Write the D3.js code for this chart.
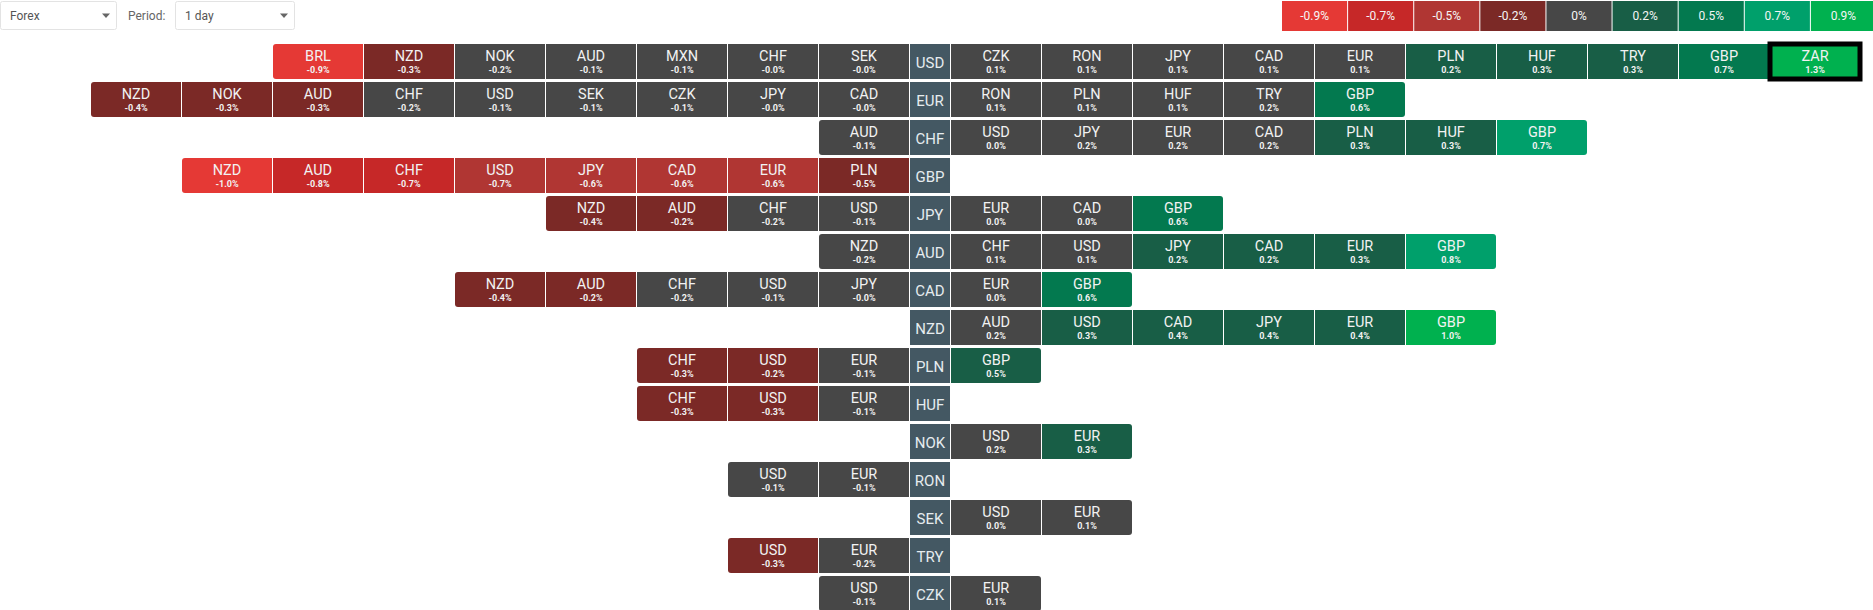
<!DOCTYPE html>
<html>
<head>
<meta charset="utf-8">
<script src="https://cdn.jsdelivr.net/npm/d3@7"></script>
<style>
  html, body { margin: 0; padding: 0; background: #fff; overflow: hidden; }
  svg { display: block; font-family: Roboto, "Noto Sans", sans-serif; }
</style>
</head>
<body>
<svg id="chart" width="1873" height="610"></svg>
<script>
// ---------- DATA ----------
const bases = ["USD","EUR","CHF","GBP","JPY","AUD","CAD","NZD","PLN","HUF","NOK","RON","SEK","TRY","CZK"];

// weaker currencies (left of the base column), listed from the outer edge toward the base
const weakerCodes = [
  ["BRL","NZD","NOK","AUD","MXN","CHF","SEK"],
  ["NZD","NOK","AUD","CHF","USD","SEK","CZK","JPY","CAD"],
  ["AUD"],
  ["NZD","AUD","CHF","USD","JPY","CAD","EUR","PLN"],
  ["NZD","AUD","CHF","USD"],
  ["NZD"],
  ["NZD","AUD","CHF","USD","JPY"],
  [],
  ["CHF","USD","EUR"],
  ["CHF","USD","EUR"],
  [],
  ["USD","EUR"],
  [],
  ["USD","EUR"],
  ["USD"]
];
const weakerValues = [
  [-0.92,-0.30,-0.17,-0.10,-0.10,-0.04,-0.03],
  [-0.40,-0.30,-0.30,-0.17,-0.10,-0.10,-0.10,-0.04,-0.03],
  [-0.10],
  [-1.02,-0.78,-0.72,-0.68,-0.60,-0.60,-0.58,-0.48],
  [-0.40,-0.22,-0.17,-0.10],
  [-0.17],
  [-0.40,-0.22,-0.17,-0.10,-0.03],
  [],
  [-0.30,-0.22,-0.10],
  [-0.30,-0.30,-0.10],
  [],
  [-0.10,-0.10],
  [],
  [-0.30,-0.17],
  [-0.10]
];

// stronger currencies (right of the base column), listed from the base outward
const strongerCodes = [
  ["CZK","RON","JPY","CAD","EUR","PLN","HUF","TRY","GBP","ZAR"],
  ["RON","PLN","HUF","TRY","GBP"],
  ["USD","JPY","EUR","CAD","PLN","HUF","GBP"],
  [],
  ["EUR","CAD","GBP"],
  ["CHF","USD","JPY","CAD","EUR","GBP"],
  ["EUR","GBP"],
  ["AUD","USD","CAD","JPY","EUR","GBP"],
  ["GBP"],
  [],
  ["USD","EUR"],
  [],
  ["USD","EUR"],
  [],
  ["EUR"]
];
const strongerValues = [
  [0.10,0.10,0.10,0.10,0.10,0.22,0.30,0.30,0.68,1.30],
  [0.10,0.10,0.10,0.17,0.60],
  [0.03,0.17,0.17,0.17,0.30,0.30,0.72],
  [],
  [0.03,0.03,0.60],
  [0.10,0.10,0.22,0.22,0.30,0.80],
  [0.03,0.60],
  [0.17,0.30,0.40,0.40,0.40,1.00],
  [0.48],
  [],
  [0.17,0.30],
  [],
  [0.03,0.10],
  [],
  [0.10]
];

const legendValues = [-0.9,-0.7,-0.5,-0.2,0,0.2,0.5,0.7,0.9];
const legendLabels = ["-0.9%","-0.7%","-0.5%","-0.2%","0%","0.2%","0.5%","0.7%","0.9%"];

const colorThresholds = [-0.85,-0.69,-0.49,-0.19,0.19,0.49,0.69,0.85];
const colorRange = ["#e53935","#c62828","#b03633","#7b2926","#474747","#185e46","#03794f","#00a06b","#00b14f"];

// ---------- DRAWING ----------
const svg = d3.select("#chart");
const color = d3.scaleThreshold().domain(colorThresholds).range(colorRange);

const y = d3.scaleBand().domain(bases).range([44, 611]).paddingInner(3/38).paddingOuter(0);
const h = y.bandwidth();
const cellW = 90;
const xRight = d3.scaleLinear().domain([0, 1]).range([951, 1042]);
const xLeft = d3.scaleLinear().domain([0, 1]).range([819, 728]);
const labelX = 910, labelW = 40;
const r = 3;

function cellPath(x, yy, w, hh, rl, rr) {
  const p = d3.path();
  p.moveTo(x + rl, yy);
  p.lineTo(x + w - rr, yy);
  if (rr) p.arcTo(x + w, yy, x + w, yy + rr, rr);
  p.lineTo(x + w, yy + hh - rr);
  if (rr) p.arcTo(x + w, yy + hh, x + w - rr, yy + hh, rr);
  p.lineTo(x + rl, yy + hh);
  if (rl) p.arcTo(x, yy + hh, x, yy + hh - rl, rl);
  p.lineTo(x, yy + rl);
  if (rl) p.arcTo(x, yy, x + rl, yy, rl);
  p.closePath();
  return p.toString();
}

// maximum for highlight
let maxV = -Infinity, maxKey = null;
bases.forEach((b, i) => strongerValues[i].forEach((v, j) => {
  if (v > maxV) { maxV = v; maxKey = b + "-" + strongerCodes[i][j]; }
}));

const fmt = v => v.toFixed(1) + "%";

const cells = [];
bases.forEach((b, i) => {
  const n = weakerCodes[i].length;
  weakerCodes[i].forEach((c, j) => {
    const k = n - 1 - j; // distance from base column
    cells.push({ base: b, code: c, v: weakerValues[i][j], x: xLeft(k), rl: j === 0 ? r : 0, rr: 0 });
  });
  const m = strongerCodes[i].length;
  strongerCodes[i].forEach((c, j) => {
    cells.push({ base: b, code: c, v: strongerValues[i][j], x: xRight(j), rl: 0, rr: j === m - 1 ? r : 0 });
  });
});

const g = svg.append("g");
const cg = g.selectAll("g.cell").data(cells).join("g").attr("class", "cell");
cg.append("path")
  .attr("d", d => cellPath(d.x, y(d.base), cellW, h, d.rl, d.rr))
  .attr("fill", d => color(d.v));
cg.append("text")
  .attr("x", d => d.x + cellW / 2)
  .attr("y", d => y(d.base) + 16.5)
  .attr("text-anchor", "middle")
  .attr("fill", "#f2f2f2")
  .attr("font-size", 14.5)
  .text(d => d.code);
cg.append("text")
  .attr("x", d => d.x + cellW / 2)
  .attr("y", d => y(d.base) + 28.5)
  .attr("text-anchor", "middle")
  .attr("fill", "#f2f2f2")
  .attr("font-size", 9)
  .attr("font-weight", "bold")
  .text(d => fmt(d.v));

// highlight
const hl = cells.find(d => d.base + "-" + d.code === maxKey);
if (hl) {
  g.append("rect")
    .attr("x", hl.x).attr("y", y(hl.base))
    .attr("width", cellW).attr("height", h)
    .attr("fill", "none").attr("stroke", "#000").attr("stroke-width", 5);
}

// base labels
const lg = g.selectAll("g.base").data(bases).join("g").attr("class", "base");
lg.append("rect")
  .attr("x", labelX).attr("y", d => y(d))
  .attr("width", labelW).attr("height", h)
  .attr("fill", "#445863");
lg.append("text")
  .attr("x", labelX + labelW / 2)
  .attr("y", d => y(d) + 23.5)
  .attr("text-anchor", "middle")
  .attr("fill", "#e6ecef")
  .attr("font-size", 15)
  .text(d => d);

// legend
const lx = d3.scaleBand().domain(legendLabels).range([1282, 1282 + 66 * legendLabels.length]).paddingInner(1/66).paddingOuter(0);
const leg = svg.append("g").selectAll("g").data(legendLabels).join("g");
leg.append("rect")
  .attr("x", d => lx(d)).attr("y", 1)
  .attr("width", lx.bandwidth()).attr("height", 30)
  .attr("fill", (d, i) => color(legendValues[i]));
leg.append("text")
  .attr("x", d => lx(d) + lx.bandwidth() / 2)
  .attr("y", 20)
  .attr("text-anchor", "middle")
  .attr("fill", "#f5f5f5")
  .attr("font-size", 12)
  .text(d => d);

// controls
const ctl = svg.append("g");
function dropdown(x, w, label) {
  ctl.append("rect").attr("x", x + 0.5).attr("y", 1.5).attr("width", w).attr("height", 28)
    .attr("fill", "#fff").attr("stroke", "#e3e3e3").attr("rx", 2);
  ctl.append("text").attr("x", x + 10).attr("y", 20).attr("font-size", 12).attr("fill", "#555").text(label);
  const ax = x + w - 10;
  ctl.append("path").attr("d", `M${ax - 4},13.5 L${ax + 4},13.5 L${ax},18 Z`).attr("fill", "#666");
}
dropdown(0, 116, "Forex");
ctl.append("text").attr("x", 128).attr("y", 20).attr("font-size", 12).attr("fill", "#666").text("Period:");
dropdown(175, 119, "1 day");
</script>
</body>
</html>
